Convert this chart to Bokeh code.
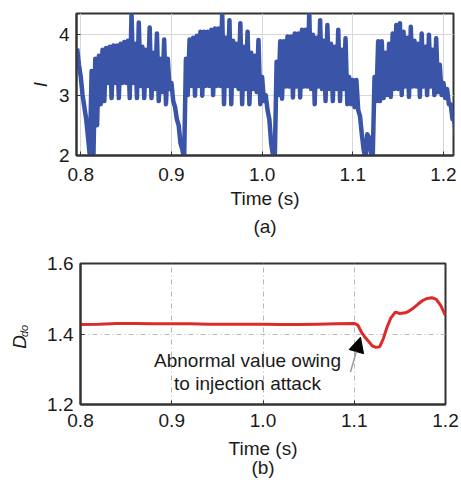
import numpy as np
from bokeh.plotting import figure
from bokeh.layouts import column
from bokeh.models import (Range1d, FixedTicker, NumeralTickFormatter, Label,
                          Arrow, NormalHead, LinearAxis)
from bokeh.embed import file_html
from bokeh.resources import INLINE

# ---------------- data ----------------
# (a) current I : upper / lower envelope of the fast ripple, sampled every 4 ms from t0
i_t0 = 0.796
i_step = 0.004
i_hi_p1 = [3.77, 3.30, 2.80, 2.30, 3.40, 3.60, 3.65, 3.75, 3.78, 3.80, 3.82, 3.82, 3.85,
           3.88, 3.90, 4.35, 3.85, 4.20, 3.80, 3.75, 4.12, 3.70, 4.02, 3.60, 3.92]
i_lo_p1 = [3.50, 3.00, 2.60, 2.00, 2.00, 2.50, 2.85, 2.90, 3.20, 2.95, 3.20, 2.95, 3.20,
           3.20, 2.95, 3.20, 2.95, 3.15, 2.95, 3.15, 2.95, 3.10, 2.90, 3.05, 2.85]
i_hi_p2 = [3.60, 3.20, 2.80, 2.50, 2.10, 3.60, 3.92, 3.95, 3.98, 4.05, 4.05, 4.05, 4.08,
           4.10, 4.10, 4.38, 3.95, 4.24, 3.90, 3.85, 4.19, 3.80, 4.05, 3.70, 3.65]
i_lo_p2 = [3.10, 2.90, 2.60, 2.20, 1.95, 3.00, 3.15, 2.99, 3.15, 2.99, 3.15, 3.15, 3.00,
           3.15, 3.15, 2.85, 3.15, 2.85, 3.15, 3.10, 2.85, 3.10, 2.85, 3.10, 3.05]
i_hi_p3 = [3.91, 3.30, 3.00, 2.60, 2.00, 3.55, 3.89, 3.89, 3.97, 3.97, 4.02, 4.02, 4.08,
           4.08, 4.38, 4.00, 3.95, 4.24, 3.90, 4.16, 3.85, 3.80, 4.08, 3.75, 3.94]
i_lo_p3 = [2.85, 2.90, 2.75, 2.20, 1.95, 3.00, 2.94, 3.14, 3.14, 2.96, 3.14, 2.96, 3.14,
           3.14, 3.10, 2.85, 3.14, 3.10, 2.90, 3.10, 2.90, 3.10, 2.90, 3.10, 2.85]
i_hi_p4 = [3.30, 3.25, 3.25, 2.65, 2.10, 2.35, 2.05, 3.30, 3.89, 3.89, 3.70, 3.85, 4.02,
           4.16, 4.19, 4.05, 3.95, 4.13, 3.90, 3.85, 4.02, 3.80, 4.00, 3.75, 3.94,
           3.50, 3.20, 3.10, 2.85, 2.60, 2.20, 2.00]
i_lo_p4 = [2.85, 2.80, 2.75, 2.35, 1.95, 2.30, 1.95, 2.90, 2.90, 2.95, 3.00, 2.97, 3.10,
           3.10, 3.00, 3.14, 2.97, 3.14, 3.14, 2.97, 3.14, 3.00, 3.14, 3.00, 3.05,
           3.00, 2.95, 2.85, 2.60, 2.30, 1.95, 1.95]

# (b) D_do
d_t = [0.800, 0.820, 0.840, 0.860, 0.880, 0.900, 0.920, 0.940, 0.960, 0.980, 1.000,
       1.020, 1.040, 1.060, 1.080, 1.100, 1.104, 1.108, 1.112, 1.116, 1.120, 1.124,
       1.128, 1.132, 1.136, 1.140, 1.145, 1.150, 1.156, 1.160, 1.165, 1.170, 1.175,
       1.180, 1.185, 1.190, 1.195, 1.200]
d_v = [1.427, 1.428, 1.430, 1.430, 1.429, 1.429, 1.429, 1.428, 1.428, 1.428, 1.428,
       1.427, 1.427, 1.428, 1.429, 1.430, 1.425, 1.405, 1.390, 1.378, 1.366, 1.362,
       1.364, 1.388, 1.420, 1.445, 1.462, 1.458, 1.460, 1.465, 1.474, 1.485, 1.495,
       1.501, 1.503, 1.498, 1.480, 1.452]

x_ticks = [0.8, 0.9, 1.0, 1.1, 1.2]
i_ticks = [2, 3, 4]
d_ticks = [1.2, 1.4, 1.6]

# ---------------- build zigzag for (a) ----------------
hi = i_hi_p1 + i_hi_p2 + i_hi_p3 + i_hi_p4
lo = i_lo_p1 + i_lo_p2 + i_lo_p3 + i_lo_p4
xs, ys = [], []
for k, (h, l) in enumerate(zip(hi, lo)):
    t = i_t0 + i_step * k
    xs += [t, t + i_step / 2]
    ys += [h, l]

FONT = "Liberation Sans"
FS = "19px"
TXT = "#1a1a1a"
FRAME = "#333333"


def style_axis(ax):
    ax.major_label_text_font = FONT
    ax.major_label_text_font_size = FS
    ax.major_label_text_color = TXT
    ax.axis_label_text_font = FONT
    ax.axis_label_text_font_size = FS
    ax.axis_label_text_color = TXT
    ax.axis_label_text_font_style = "normal"
    ax.axis_line_color = FRAME
    ax.axis_line_width = 2
    ax.major_tick_in = 4
    ax.major_tick_out = 0
    ax.major_tick_line_color = FRAME
    ax.minor_tick_line_color = None


def caption_axis(text, standoff):
    ax = LinearAxis(ticker=FixedTicker(ticks=[]))
    style_axis(ax)
    ax.axis_line_color = None
    ax.major_tick_in = 0
    ax.axis_label = text
    ax.axis_label_standoff = standoff
    return ax


def style_fig(p, grid_dash, grid_color):
    p.outline_line_color = FRAME
    p.outline_line_width = 2
    p.grid.grid_line_color = grid_color
    p.grid.grid_line_width = 1
    if grid_dash:
        p.grid.grid_line_dash = grid_dash
    p.background_fill_color = "white"
    p.border_fill_color = "white"
    if "frame_align" in p.properties():
        p.frame_align = False


# ---------------- figure (a) ----------------
p1 = figure(width=461, height=246, output_backend="svg", toolbar_location=None,
            x_range=Range1d(0.7953, 1.2111), y_range=Range1d(2.0, 4.35),
            min_border_left=76, min_border_right=8, min_border_top=13, min_border_bottom=91)
style_fig(p1, None, "#d8d8d8")
for ax in (p1.xaxis[0], p1.yaxis[0]):
    style_axis(ax)
p1.xaxis.ticker = FixedTicker(ticks=x_ticks)
p1.yaxis.ticker = FixedTicker(ticks=i_ticks)
p1.xaxis.formatter = NumeralTickFormatter(format="0.0")
p1.yaxis.formatter = NumeralTickFormatter(format="0")
p1.xaxis.major_label_standoff = 12
p1.yaxis.major_label_standoff = 7
p1.xaxis.axis_label = "Time (s)"
p1.xaxis.axis_label_standoff = 4
p1.yaxis.axis_label = "I"
p1.yaxis.axis_label_text_font_style = "italic"
p1.yaxis.axis_label_standoff = 5
p1.line(xs, ys, line_color="#3a55a8", line_width=4.5, line_join="round")
p1.add_layout(caption_axis("(a)", 4), "below")

# ---------------- figure (b) ----------------
p2 = figure(width=461, height=238, output_backend="svg", toolbar_location=None,
            x_range=Range1d(0.8, 1.2), y_range=Range1d(1.2, 1.6), y_axis_location=None,
            min_border_left=80, min_border_right=16, min_border_top=17, min_border_bottom=80)
style_fig(p2, "5 3 1 3", "#b8b8b8")
style_axis(p2.xaxis[0])
p2.xaxis.ticker = FixedTicker(ticks=x_ticks)
p2.ygrid.ticker = FixedTicker(ticks=d_ticks)
p2.xaxis.formatter = NumeralTickFormatter(format="0.0")
p2.xaxis.major_label_standoff = 9
p2.xaxis.axis_label = "Time (s)"
p2.xaxis.axis_label_standoff = 8

# inner y axis: ticks + subscript "do"
ya = LinearAxis(ticker=FixedTicker(ticks=d_ticks), formatter=NumeralTickFormatter(format="0.0"))
style_axis(ya)
ya.major_label_standoff = 7
ya.axis_label = "\u00a0\u00a0do"
ya.axis_label_text_font_size = "11px"
ya.axis_label_text_font_style = "italic"
ya.axis_label_standoff = 14
p2.add_layout(ya, "left")
# outer y axis: only the main symbol "D"
yb = caption_axis("D\u00a0\u00a0\u00a0", -14)
yb.axis_label_text_font_style = "italic"
p2.add_layout(yb, "left")

p2.line(d_t, d_v, line_color="#dd2a2a", line_width=3)
p2.add_layout(caption_axis("(b)", -5), "below")

# annotation
p2.add_layout(Arrow(end=NormalHead(size=15, fill_color="black", line_color="black"),
                    x_start=1.0959, y_start=1.292, x_end=1.1068, y_end=1.391,
                    line_color="#9a9a9a", line_width=1.5))
p2.add_layout(Label(x=0.983, y=1.325, text="Abnormal value owing", text_font=FONT,
                    text_font_size=FS, text_color=TXT, text_align="center",
                    text_baseline="middle"))
p2.add_layout(Label(x=0.983, y=1.2596, text="to injection attack", text_font=FONT,
                    text_font_size=FS, text_color=TXT, text_align="center",
                    text_baseline="middle"))

layout = column(p1, p2, spacing=0)
open("out.html", "w").write(file_html(layout, INLINE))
